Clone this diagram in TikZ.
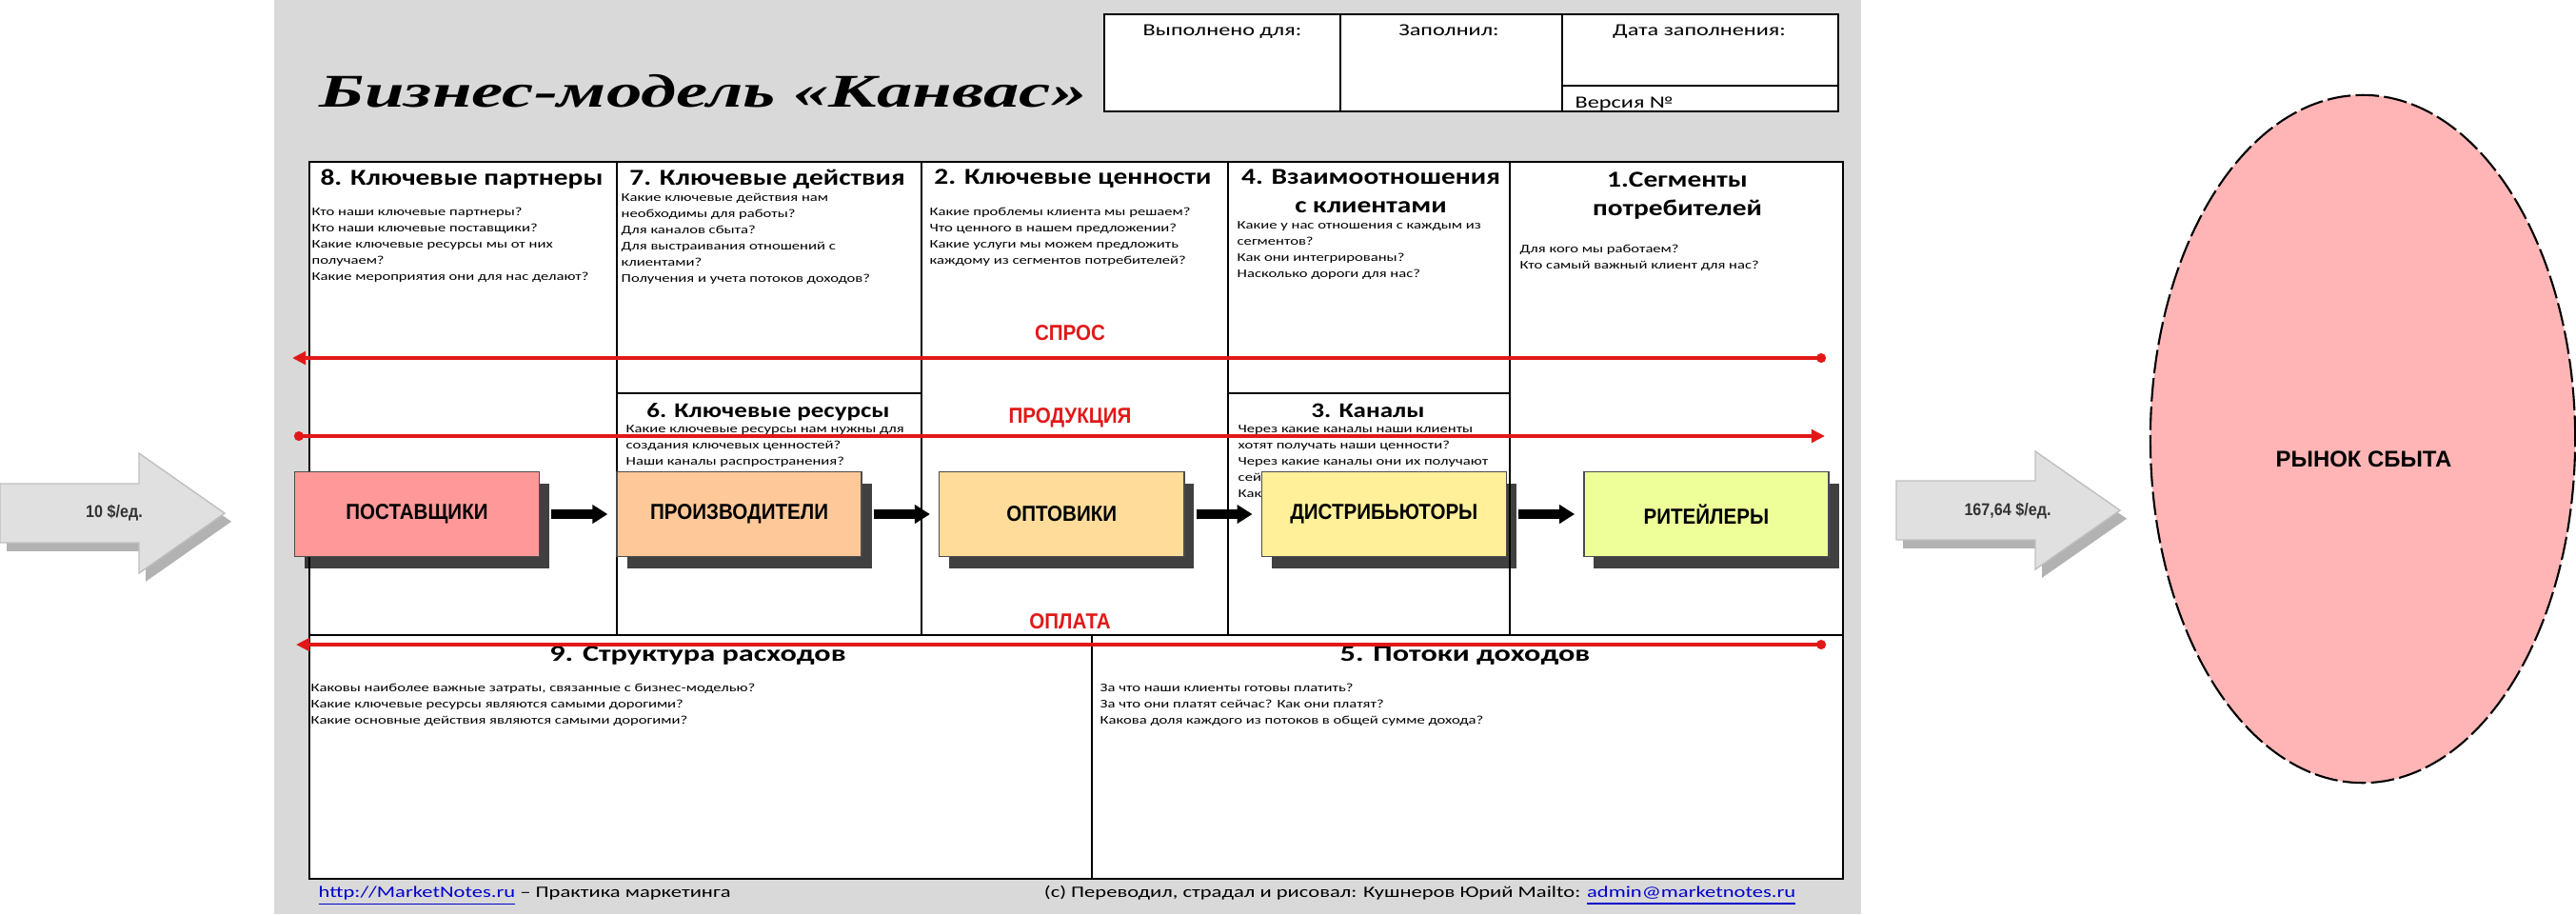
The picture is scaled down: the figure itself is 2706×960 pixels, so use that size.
\documentclass[tikz,border=0pt]{standalone}
\usepackage{fontspec}
\setmainfont{Carlito}
\newfontfamily\canvasfont[FakeStretch=1.35]{Carlito}
\newfontfamily\headfont[FakeStretch=1.23]{Carlito}
\newfontfamily\titlefont[FakeStretch=1.52]{Liberation Serif}
\newfontfamily\flowfont[FakeStretch=0.9]{Liberation Sans}
\newfontfamily\marketfont{Liberation Sans}
\usepackage{xcolor}
\usetikzlibrary{arrows.meta,positioning,shapes.geometric,shadows}
\definecolor{pagegray}{RGB}{217,217,217}
\definecolor{flowred}{RGB}{226,24,24}
\definecolor{linkblue}{RGB}{0,0,204}
\definecolor{supplierfill}{RGB}{255,153,153}
\definecolor{producerfill}{RGB}{255,200,153}
\definecolor{wholesalefill}{RGB}{255,220,153}
\definecolor{distribfill}{RGB}{255,240,153}
\definecolor{retailfill}{RGB}{238,255,153}
\definecolor{marketfill}{RGB}{255,181,181}
\definecolor{pricefill}{RGB}{224,224,224}
\tikzset{
  cellline/.style={draw=black,line width=0.6pt},
  tablehead/.style={font={\canvasfont\fontsize{5.1}{6}\selectfont},anchor=base,inner sep=0pt},
  cellhead/.style={font={\headfont\bfseries\fontsize{6.8}{8.5}\selectfont},anchor=north,
    align=center,inner sep=0pt},
  smallhead/.style={cellhead,font={\headfont\bfseries\fontsize{6.25}{7.5}\selectfont}},
  lowhead/.style={cellhead,font={\canvasfont\bfseries\fontsize{6.8}{8.5}\selectfont}},
  cellbody/.style={font={\canvasfont\fontsize{3.5}{4.84}\selectfont},anchor=north west,
    align=left,inner sep=0pt},
  footline/.style={font={\canvasfont\fontsize{4.75}{5.5}\selectfont},inner sep=0pt},
  flowbox/.style={draw=black!70,line width=0.4pt,minimum width=2.57cm,minimum height=0.89cm,
    font={\flowfont\bfseries\fontsize{6.5}{7.5}\selectfont},
    drop shadow={shadow xshift=3pt,shadow yshift=-3.5pt,opacity=0.75,fill=black}},
  flowarrow/.style={-{Triangle[length=0.16cm,width=0.19cm]},line width=0.1cm,
    shorten <=0.12cm,shorten >=0.09cm},
  flowline/.style={{Circle[length=2.8pt]}-{Triangle[length=4pt,width=3.8pt]},
    draw=flowred,line width=1.1pt},
  flowlabel/.style={text=flowred,font={\flowfont\bfseries\fontsize{6.5}{7.5}\selectfont},
    anchor=base,inner sep=0pt},
  pricearrow/.style={draw=black!25,fill=pricefill,line width=0.4pt,
    drop shadow={shadow xshift=2pt,shadow yshift=-2.5pt,opacity=0.3,fill=black}},
  pricelabel/.style={font={\flowfont\bfseries\fontsize{5.1}{6}\selectfont},text=black!80,
    inner sep=0pt}
}
\begin{document}
\begin{tikzpicture}[x=0.01cm,y=-0.01cm]
  \useasboundingbox (0,0) rectangle (2706,960);
  \fill[pagegray] (288,0) rectangle (1955,960);
  \node[anchor=base west,inner sep=0pt,
    font={\titlefont\bfseries\itshape\fontsize{14}{16}\selectfont}] (title)
    at (335,112) {Бизнес-модель «Канвас»};
  % header table
  \draw[cellline,fill=white] (1160,15) rectangle (1931,117);
  \draw[cellline] (1408,15) -- (1408,117) (1641,15) -- (1641,117) (1641,90) -- (1931,90);
  \node[tablehead] (forwhom) at (1284,37) {Выполнено для:};
  \node[tablehead] (filledby) at (1522,37) {Заполнил:};
  \node[tablehead] (filldate) at (1785,37) {Дата заполнения:};
  \node[tablehead,anchor=base west] (version) at (1654,113) {Версия №};
  % canvas grid
  \draw[cellline,fill=white] (325,170) rectangle (1936,923);
  \draw[cellline] (325,667) -- (1936,667) (1147,667) -- (1147,923);
  \foreach \xx in {648,968,1290,1586}
    \draw[cellline] (\xx,170) -- (\xx,667);
  \draw[cellline] (648,413) -- (968,413) (1290,413) -- (1586,413);
  % cells
  \node[cellhead] (hpartners) at (485,177) {8. Ключевые партнеры};
  \node[cellbody] (qpartners) at (327,217) {Кто наши ключевые партнеры?\\
    Кто наши ключевые поставщики?\\Какие ключевые ресурсы мы от них\\получаем?\\
    Какие мероприятия они для нас делают?};
  \node[cellhead] (hactivities) at (806,177) {7. Ключевые действия};
  \node[cellbody] (qactivities) at (652,202) {Какие ключевые действия нам\\
    необходимы для работы?\\Для каналов сбыта?\\Для выстраивания отношений с\\
    клиентами?\\Получения и учета потоков доходов?};
  \node[cellhead] (hvalues) at (1127,177) {2. Ключевые ценности};
  \node[cellbody] (qvalues) at (976,217) {Какие проблемы клиента мы решаем?\\
    Что ценного в нашем предложении?\\Какие услуги мы можем предложить\\
    каждому из сегментов потребителей?};
  \node[cellhead] (hrelations) at (1440,177) {4. Взаимоотношения\\с клиентами};
  \node[cellbody] (qrelations) at (1299,232) {Какие у нас отношения с каждым из\\
    сегментов?\\Как они интегрированы?\\Насколько дороги для нас?};
  \node[cellhead] (hsegments) at (1762,180) {1.Сегменты\\потребителей};
  \node[cellbody] (qsegments) at (1596,256) {Для кого мы работаем?\\
    Кто самый важный клиент для нас?};
  \node[smallhead] (hresources) at (807,423) {6. Ключевые ресурсы};
  \node[cellbody] (qresources) at (657,446) {Какие ключевые ресурсы нам нужны для\\
    создания ключевых ценностей?\\Наши каналы распространения?\\Отношения с клиентами?};
  \node[smallhead] (hchannels) at (1437,423) {3. Каналы};
  \node[cellbody] (qchannels) at (1300,446) {Через какие каналы наши клиенты\\
    хотят получать наши ценности?\\Через какие каналы они их получают\\сейчас?\\
    Как интегрированы каналы?};
  \node[lowhead] (hcosts) at (733,678) {9. Структура расходов};
  \node[cellbody] (qcosts) at (326,717) {Каковы наиболее важные затраты, связанные с бизнес-моделью?\\
    Какие ключевые ресурсы являются самыми дорогими?\\
    Какие основные действия являются самыми дорогими?};
  \node[lowhead] (hrevenue) at (1539,678) {5. Потоки доходов};
  \node[cellbody] (qrevenue) at (1155,717) {За что наши клиенты готовы платить?\\
    За что они платят сейчас? Как они платят?\\
    Какова доля каждого из потоков в общей сумме дохода?};
  % footer
  \node[footline,anchor=base west] (site) at (334,942)
    {\textcolor{linkblue}{\underline{http://MarketNotes.ru}} – Практика маркетинга};
  \node[footline,anchor=base east] (credits) at (1887,942)
    {(c) Переводил, страдал и рисовал: Кушнеров Юрий Mailto: \textcolor{linkblue}{\underline{admin@marketnotes.ru}}};
  % value chain
  \node[flowbox,fill=supplierfill] (supp) at (438,540) {ПОСТАВЩИКИ};
  \node[flowbox,fill=producerfill,right=0.8cm of supp] (prod) {ПРОИЗВОДИТЕЛИ};
  \node[flowbox,fill=wholesalefill,right=0.8cm of prod] (whole) {ОПТОВИКИ};
  \node[flowbox,fill=distribfill,right=0.8cm of whole] (distr) {ДИСТРИБЬЮТОРЫ};
  \node[flowbox,fill=retailfill,right=0.8cm of distr] (retail) {РИТЕЙЛЕРЫ};
  \foreach \a/\b in {supp/prod,prod/whole,whole/distr,distr/retail}
    \draw[flowarrow] (\a) -- (\b);
  % flows across the canvas
  \coordinate (demandR) at (1918,376);
  \coordinate (demandL) at (307,376);
  \coordinate (goodsL) at (309,458);
  \coordinate (goodsR) at (1917,458);
  \coordinate (payR) at (1918,677);
  \coordinate (payL) at (311,677);
  \draw[flowline] (demandR) -- (demandL);
  \draw[flowline] (goodsL) -- (goodsR);
  \draw[flowline] (payR) -- (payL);
  \node[flowlabel] (demand) at (1124,357) {СПРОС};
  \node[flowlabel] (goods) at (1124,444) {ПРОДУКЦИЯ};
  \node[flowlabel] (payment) at (1124,660) {ОПЛАТА};
  % prices and market
  \draw[pricearrow] (0,508) -- (146,508) -- (146,476) -- (236,539) -- (146,602)
    -- (146,570) -- (0,570) -- cycle;
  \node[pricelabel] (inprice) at (120,539) {10 \$/ед.};
  \draw[pricearrow] (1992,505) -- (2138,505) -- (2138,474) -- (2227,536) -- (2138,598)
    -- (2138,567) -- (1992,567) -- cycle;
  \node[pricelabel] (outprice) at (2109,537) {167,64 \$/ед.};
  \node[ellipse,draw=black,fill=marketfill,line width=0.6pt,dash pattern=on 7pt off 1.5pt,
    minimum width=4.46cm,minimum height=7.22cm,inner sep=0pt] (market) at (2482,461) {};
  \node[font={\marketfont\bfseries\fontsize{6.8}{8}\selectfont},inner sep=0pt]
    (marketlabel) at (2483,482) {РЫНОК СБЫТА};
\end{tikzpicture}
\end{document}
